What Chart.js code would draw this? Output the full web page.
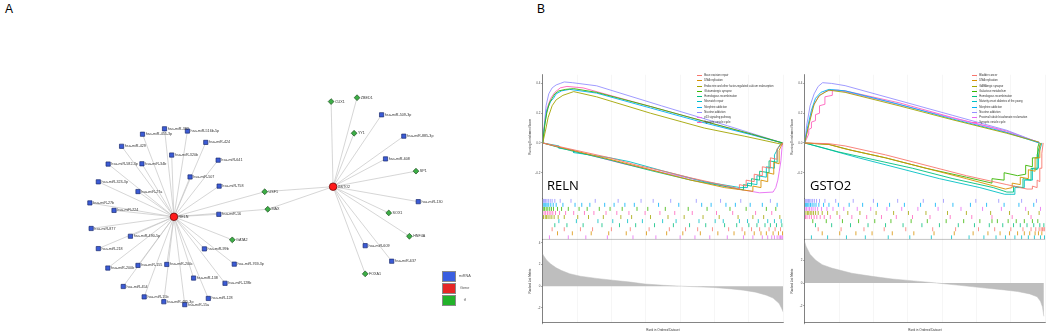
<!DOCTYPE html>
<html lang="en">
<head>
<meta charset="UTF-8">
<title>RELN / GSTO2 regulatory network and GSEA</title>
<style>
  body {
    margin: 0;
    width: 1052px;
    height: 332px;
    position: relative;
    overflow: hidden;
    background: #fff;
    font-family: Arial, 'Liberation Sans', sans-serif;
  }
  canvas { position: absolute; }
  .tag { position: absolute; font-size: 12px; line-height: 12px; color: #000; }
  .gene-name {
    position: absolute;
    font-family: 'Open Sans', sans-serif;
    font-size: 13px;
    line-height: 13px;
    color: #000;
  }
  .net-box { position: absolute; width: 12px; height: 9px; border: 0.7px solid #8a8a8a; }
  .net-text { position: absolute; width: 20px; text-align: center; font-size: 3.8px; line-height: 4px; color: #555; }
  .es-legend { position: absolute; }
  .es-row { display: flex; align-items: center; height: 5.26px; white-space: nowrap; }
  .es-key { width: 5px; height: 0.8px; margin-right: 2.6px; }
  .es-label { font-size: 2.7px; line-height: 3px; color: #333; }
</style>
</head>
<body>
<div class="tag" style="left:5px;top:2.5px">A</div>
<div class="tag" style="left:537px;top:2.5px">B</div>

<canvas id="network" width="530" height="332" style="left:0;top:0"></canvas>
<div id="netLegend"></div>

<canvas id="gseaReln" width="260" height="262" style="left:528px;top:70px"></canvas>
<canvas id="gseaGsto2" width="260" height="262" style="left:790px;top:70px"></canvas>
<div class="gene-name" style="left:547px;top:179.4px">RELN</div>
<div class="gene-name" style="left:810px;top:179.4px">GSTO2</div>
<div class="es-legend" id="relnLegend" style="left:696.7px;top:73px"></div>
<div class="es-legend" id="gsto2Legend" style="left:971.7px;top:73px"></div>

<script src="https://cdn.jsdelivr.net/npm/chart.js"></script>
<script>
// ---------- network (panel A) ----------
const nodeNames = [
  'RELN', 'GSTO2',
  'hsa-miR-382', 'hsa-miR-516b-5p', 'hsa-miR-455-3p', 'hsa-miR-429', 'hsa-miR-424', 'hsa-miR-320b',
  'hsa-miR-582-3p', 'hsa-miR-34b', 'hsa-miR-641', 'hsa-miR-507', 'hsa-miR-323-3p', 'hsa-miR-758',
  'hsa-miR-27a', 'hsa-miR-27b', 'hsa-miR-224', 'hsa-miR-16', 'hsa-miR-877', 'hsa-miR-490-5p',
  'hsa-miR-218', 'hsa-miR-99b', 'hsa-miR-769-3p', 'hsa-miR-200b', 'hsa-miR-155', 'hsa-miR-200c',
  'hsa-miR-138', 'hsa-miR-128b', 'hsa-miR-454', 'hsa-miR-15b', 'hsa-miR-128', 'hsa-miR-495-3p', 'hsa-miR-15a',
  'GATA2', 'USF1', 'MAX',
  'CUX1', 'ZBED1', 'hsa-miR-509-3p', 'YY1', 'hsa-miR-885-3p', 'hsa-miR-608', 'SP1', 'hsa-miR-130',
  'SOX1', 'HNF4A', 'hsa-miR-609', 'hsa-miR-637', 'FOXA1'
];
const nodeTypes = [
  'Gene', 'Gene',
  'miRNA', 'miRNA', 'miRNA', 'miRNA', 'miRNA', 'miRNA',
  'miRNA', 'miRNA', 'miRNA', 'miRNA', 'miRNA', 'miRNA',
  'miRNA', 'miRNA', 'miRNA', 'miRNA', 'miRNA', 'miRNA',
  'miRNA', 'miRNA', 'miRNA', 'miRNA', 'miRNA', 'miRNA',
  'miRNA', 'miRNA', 'miRNA', 'miRNA', 'miRNA', 'miRNA', 'miRNA',
  'tf', 'tf', 'tf',
  'tf', 'tf', 'miRNA', 'tf', 'miRNA', 'miRNA', 'tf', 'miRNA',
  'tf', 'tf', 'miRNA', 'miRNA', 'tf'
];
// layout coordinates of each node
const nodeX = [
  172.3, 334.3,
  162.7, 186, 140.3, 119, 204.7, 170,
  105.3, 139.7, 217.3, 188.7, 95.3, 218.3,
  135.7, 86.7, 111.3, 218, 88, 128,
  95.3, 203.3, 233.7, 105, 135.7, 165,
  192.3, 224.3, 120.7, 142, 207.3, 162, 183.3,
  231.7, 264.7, 267.8,
  332.3, 358.7, 383.7, 355.7, 406.3, 387.7, 418.7, 421,
  391, 412, 367, 394, 367
];
const nodeY = [
  218.3, 187.3,
  127.7, 130, 133.3, 145.7, 141.7, 154.7,
  164, 163.7, 160, 177.3, 182.3, 186.7,
  192.3, 204, 211.7, 215.7, 230.3, 238.3,
  251, 251.3, 267, 271, 268.3, 267.3,
  281.3, 286.7, 290, 300.7, 302.3, 305.7, 308.7,
  242, 192.5, 210.5,
  99.7, 95.7, 113.3, 132.3, 135.3, 158.7, 171.3, 202.7,
  214.3, 238.3, 248, 264, 277
];
const edgeFrom = [
  'RELN', 'RELN', 'RELN', 'RELN', 'RELN', 'RELN', 'RELN', 'RELN', 'RELN', 'RELN', 'RELN', 'RELN',
  'RELN', 'RELN', 'RELN', 'RELN', 'RELN', 'RELN', 'RELN', 'RELN', 'RELN', 'RELN', 'RELN', 'RELN',
  'RELN', 'RELN', 'RELN', 'RELN', 'RELN', 'RELN', 'RELN', 'RELN', 'RELN', 'RELN',
  'GSTO2', 'GSTO2', 'GSTO2', 'GSTO2', 'GSTO2', 'GSTO2', 'GSTO2', 'GSTO2', 'GSTO2', 'GSTO2',
  'GSTO2', 'GSTO2', 'GSTO2', 'GSTO2', 'GSTO2'
];
const edgeTo = [
  'hsa-miR-382', 'hsa-miR-516b-5p', 'hsa-miR-455-3p', 'hsa-miR-429', 'hsa-miR-424', 'hsa-miR-320b',
  'hsa-miR-582-3p', 'hsa-miR-34b', 'hsa-miR-641', 'hsa-miR-507', 'hsa-miR-323-3p', 'hsa-miR-758',
  'hsa-miR-27a', 'hsa-miR-27b', 'hsa-miR-224', 'hsa-miR-16', 'hsa-miR-877', 'hsa-miR-490-5p',
  'hsa-miR-218', 'hsa-miR-99b', 'hsa-miR-769-3p', 'hsa-miR-200b', 'hsa-miR-155', 'hsa-miR-200c',
  'hsa-miR-138', 'hsa-miR-128b', 'hsa-miR-454', 'hsa-miR-15b', 'hsa-miR-128', 'hsa-miR-495-3p',
  'hsa-miR-15a', 'GATA2', 'USF1', 'MAX',
  'USF1', 'MAX', 'CUX1', 'ZBED1', 'hsa-miR-509-3p', 'YY1', 'hsa-miR-885-3p', 'hsa-miR-608',
  'SP1', 'hsa-miR-130', 'SOX1', 'HNF4A', 'hsa-miR-609', 'hsa-miR-637', 'FOXA1'
];
const nodeCategories = ['miRNA', 'Gene', 'tf'];

// ---------- GSEA (panel B) ----------
const RANK_MAX = 17850;
const esTicks = ['0.4', '0.2', '0.0', '-0.2'];

const relnSets = [
  'Base excision repair', 'DNA replication',
  'Endocrine and other factor-regulated calcium reabsorption', 'Glutamatergic synapse',
  'Homologous recombination', 'Mismatch repair', 'Morphine addiction', 'Nicotine addiction',
  'p53 signaling pathway', 'Synaptic vesicle cycle'
];
const relnEs = [
  [[0,0],[1500,-0.03],[3000,-0.06],[5000,-0.1],[7000,-0.15],[9000,-0.19],[11000,-0.235],[13000,-0.275],[14200,-0.3],[14600,-0.31],[14600,-0.28],[15100,-0.29],[15100,-0.25],[15700,-0.26],[15700,-0.21],[16300,-0.22],[16300,-0.16],[16900,-0.17],[16900,-0.1],[17400,-0.11],[17400,-0.04],[17800,0]],
  [[0,0],[2000,-0.045],[5000,-0.11],[8000,-0.18],[11000,-0.25],[13500,-0.3],[15600,-0.325],[15600,-0.29],[16200,-0.3],[16200,-0.25],[16700,-0.26],[16700,-0.2],[17150,-0.21],[17150,-0.13],[17550,-0.14],[17550,-0.05],[17800,0]],
  [[0,0],[200,0.08],[400,0.17],[700,0.25],[1000,0.29],[1500,0.32],[2300,0.345],[4000,0.31],[8000,0.2],[12000,0.1],[15000,0.045],[17800,-0.01]],
  [[0,0],[150,0.12],[300,0.2],[500,0.27],[700,0.3],[900,0.33],[1200,0.35],[1700,0.36],[2300,0.365],[4000,0.34],[8000,0.245],[12000,0.145],[15500,0.06],[17800,0]],
  [[0,0],[2000,-0.05],[5000,-0.115],[8000,-0.185],[11000,-0.25],[14900,-0.315],[14900,-0.28],[15500,-0.29],[15500,-0.24],[16100,-0.25],[16100,-0.19],[16800,-0.2],[16800,-0.12],[17400,-0.13],[17400,-0.04],[17760,0]],
  [[0,0],[1200,-0.02],[1200,-0.035],[2300,-0.05],[2300,-0.065],[3500,-0.08],[5000,-0.1],[6400,-0.125],[9000,-0.19],[12000,-0.26],[14650,-0.3],[15200,-0.3],[15200,-0.27],[15900,-0.28],[15900,-0.22],[16600,-0.23],[16600,-0.16],[17200,-0.17],[17200,-0.08],[17700,0]],
  [[0,0],[120,0.1],[300,0.22],[600,0.28],[800,0.3],[1000,0.33],[1400,0.35],[2000,0.36],[4000,0.335],[8000,0.235],[12000,0.135],[15500,0.055],[17800,0]],
  [[0,0],[100,0.1],[250,0.25],[450,0.33],[700,0.37],[1000,0.39],[1300,0.4],[1600,0.41],[2200,0.405],[4000,0.384],[8800,0.25],[13700,0.116],[17800,0]],
  [[0,0],[3000,-0.07],[6000,-0.14],[9000,-0.2],[12000,-0.26],[14500,-0.31],[16100,-0.335],[17100,-0.33],[17300,-0.3],[17450,-0.25],[17560,-0.19],[17680,-0.12],[17760,-0.03],[17830,0]],
  [[0,0],[150,0.14],[350,0.24],[600,0.3],[900,0.34],[1300,0.37],[1800,0.38],[3000,0.37],[7000,0.27],[11000,0.17],[15000,0.07],[17800,0]]
];
const relnHits = [
  [700,1600,2800,3700,5100,6500,7900,9400,10600,11500,12600,13800,14800,15500,16100,16800,17250,17650],
  [1100,2200,3600,4900,6200,7700,9200,10400,11700,13000,14200,15000,15700,16200,16600,17100,17500,17800],
  [60,190,290,400,540,680,850,1150,1600,2600,3400,4500,5800,6600,8000,9300,10500,11900,13100,14500,15600,16400,17600],
  [40,140,260,380,520,650,800,1100,1400,1900,2700,3300,4200,5000,5900,7000,7800,9100,10800,12200,13900,15100,16600,17300],
  [900,1800,3000,4400,5700,6900,8300,9700,10900,12100,13500,14400,15300,15900,16500,16900,17350,17750],
  [1200,2500,4100,5200,6300,7400,8900,9900,11600,12800,13400,14600,15200,16000,16700,17200,17700],
  [80,160,240,330,450,600,780,1000,1500,2400,2900,3500,4600,5300,6100,6800,8600,10100,11800,12500,13600,14300,15400,16300,17400],
  [50,120,200,310,420,560,700,900,1300,2100,3900,5600,7300,8200,9500,11400,13200,14700,16900],
  [500,1900,3200,4800,6700,8400,10200,11300,12400,13700,14900,15600,16300,16700,17000,17200,17400,17550,17650,17750,17820],
  [100,220,350,480,610,750,950,1250,1700,2300,3100,3800,4700,5500,6400,7600,8700,9800,11100,12900,14100,15800,17000]
];
const relnRugOrder = [7, 6, 3, 9, 2, 5, 4, 0, 1, 8];
const relnRanked = [
  [0,3.0],[50,2.86],[300,2.4],[600,2.05],[1000,1.7],[1400,1.45],[2000,1.15],[2800,0.92],[4000,0.72],
  [5200,0.55],[6500,0.38],[7600,0.2],[9000,0.08],[10300,0],[11500,-0.06],[12700,-0.12],[14000,-0.25],
  [14900,-0.37],[15800,-0.55],[16600,-0.83],[17100,-1.1],[17550,-1.6],[17750,-2.1],[17850,-2.4]
];

const gsto2Sets = [
  'Bladder cancer', 'DNA replication', 'GABAergic synapse', 'Galactose metabolism',
  'Homologous recombination', 'Maturity onset diabetes of the young', 'Morphine addiction',
  'Nicotine addiction', 'Proximal tubule bicarbonate reclamation', 'Synaptic vesicle cycle'
];
const gsto2Es = [
  [[0,0],[1800,-0.005],[3000,-0.02],[6000,-0.08],[9000,-0.15],[12000,-0.22],[15000,-0.28],[16500,-0.31],[16900,-0.31],[16900,-0.29],[17250,-0.3],[17250,-0.25],[17450,-0.26],[17450,-0.17],[17600,-0.17],[17600,-0.07],[17700,0]],
  [[0,0],[1800,-0.01],[3000,-0.04],[6000,-0.1],[9000,-0.17],[12000,-0.24],[14900,-0.31],[15400,-0.3],[15400,-0.27],[16000,-0.28],[16000,-0.23],[16600,-0.24],[16600,-0.18],[17100,-0.19],[17100,-0.1],[17450,-0.1],[17450,-0.02],[17550,0]],
  [[0,0],[300,0.12],[700,0.26],[1100,0.32],[1800,0.355],[3000,0.34],[7000,0.25],[11000,0.155],[15000,0.065],[17400,0.005]],
  [[0,0],[1800,-0.01],[3500,-0.05],[6000,-0.1],[9000,-0.17],[12000,-0.23],[13900,-0.27],[13900,-0.24],[14800,-0.25],[14800,-0.2],[15800,-0.22],[16400,-0.21],[16400,-0.15],[16900,-0.16],[16900,-0.1],[17300,-0.1],[17300,-0.03],[17400,0]],
  [[0,0],[2500,-0.06],[5000,-0.11],[8000,-0.17],[11000,-0.24],[14000,-0.3],[15000,-0.33],[15500,-0.33],[15500,-0.29],[16200,-0.3],[16200,-0.24],[16800,-0.25],[16800,-0.17],[17250,-0.18],[17250,-0.08],[17500,0]],
  [[0,0],[2000,-0.05],[4000,-0.1],[7000,-0.17],[10000,-0.24],[13000,-0.3],[14850,-0.345],[15600,-0.345],[15600,-0.3],[16300,-0.3],[16300,-0.25],[16900,-0.25],[16900,-0.17],[17350,-0.17],[17350,-0.08],[17600,0]],
  [[0,0],[200,0.1],[500,0.22],[800,0.3],[1200,0.34],[1800,0.36],[3000,0.35],[7000,0.26],[11000,0.16],[15000,0.07],[17400,0]],
  [[0,0],[150,0.12],[400,0.25],[700,0.33],[1000,0.38],[1330,0.405],[2000,0.4],[3000,0.385],[7000,0.285],[11000,0.185],[15000,0.085],[17450,0]],
  [[0,0],[250,0.1],[600,0.24],[1000,0.31],[1600,0.35],[2500,0.355],[6000,0.28],[10000,0.19],[14000,0.1],[17400,0.005]],
  [[0,0],[300,0.06],[300,0.09],[500,0.1],[500,0.14],[800,0.15],[800,0.19],[1100,0.2],[1100,0.25],[1500,0.26],[1500,0.31],[2050,0.32],[2050,0.355],[3000,0.35],[7000,0.27],[11000,0.17],[15000,0.08],[17450,0]]
];
const gsto2Hits = [
  [1000,2700,4400,5900,7500,9500,11200,12900,14100,15300,16200,16800,17150,17400,17550,17650,17750,17820],
  [1300,2600,3800,5000,6500,8100,9600,11100,12500,13600,14500,15200,15800,16300,16700,17100,17350,17600],
  [90,200,300,410,530,660,810,1000,1300,1700,2400,3200,4100,5300,6600,7700,9000,10600,12000,13800,15200,16600,17400],
  [600,1600,2800,4000,5200,6400,7900,9100,10500,11800,13000,13900,14300,15100,15700,16300,16900,17300],
  [800,2000,3400,4700,6000,7300,8700,10000,11400,12600,13700,14700,15500,16000,16500,17000,17450,17750],
  [500,1700,3100,4500,6200,7800,9400,10900,12200,13300,14200,14900,15600,16100,16600,17050,17500,17800],
  [70,150,230,320,430,550,690,840,1050,1400,1800,2500,3300,4300,5400,6300,7400,8600,9700,11000,12300,13500,14800,15900,17000],
  [40,110,190,280,370,470,590,720,880,1100,1500,2300,3600,5100,6900,8800,10300,12700,14400,16100,17200],
  [30,130,250,360,490,620,780,960,1250,1650,2100,2900,3900,4900,6100,7200,8400,9900,11600,13200,14600,16400,17500],
  [60,170,340,500,700,900,1150,1450,1900,2600,3500,4600,5700,6800,8000,9300,10800,12400,13900,15400,16800]
];
const gsto2RugOrder = [7, 6, 8, 2, 9, 3, 4, 0, 1, 5];
const gsto2Ranked = [
  [0,3.6],[100,3.2],[400,2.5],[800,2.0],[1300,1.6],[2000,1.3],[2500,1.15],[3500,0.85],[5000,0.58],
  [6500,0.35],[8500,0.14],[9800,0],[11500,-0.2],[13400,-0.44],[14800,-0.6],[15800,-0.74],[16700,-0.95],
  [17250,-1.2],[17500,-1.6],[17650,-2.1],[17750,-2.9]
];

// ---------- styles ----------
const palette = ['#F8766D', '#D89000', '#A3A500', '#39B600', '#00BF7D', '#00BFC4', '#00B0F6', '#9590FF', '#E76BF3', '#FF62BC'];
const nodeStyle = {
  miRNA: { fill: '#3b5bd6', line: '#1c2c6e', shape: 'rect', r: 3, gap: 3.2 },
  Gene:  { fill: '#ff1a1a', line: '#5a0000', shape: 'circle', r: 3.8, gap: 4.6 },
  tf:    { fill: '#3cae46', line: '#1f4f22', shape: 'rectRot', r: 2.9, gap: 3.8 }
};
const legendFill = { miRNA: '#3a5ee0', Gene: '#e62626', tf: '#22b22a' };

// ---------- network chart ----------
const nodeIndex = {};
nodeNames.forEach((n, i) => { nodeIndex[n] = i; });

const edgePoints = [];
edgeFrom.forEach((src, i) => {
  const a = nodeIndex[src], b = nodeIndex[edgeTo[i]];
  edgePoints.push({ x: nodeX[a], y: nodeY[a] });
  edgePoints.push({ x: nodeX[b], y: nodeY[b] });
  edgePoints.push({ x: nodeX[b], y: null });
});

const netDatasets = [{
  label: 'edges',
  data: edgePoints,
  showLine: true,
  spanGaps: false,
  borderColor: '#c4c4c4',
  borderWidth: 0.7,
  pointRadius: 0,
  order: 10
}];
['tf', 'miRNA', 'Gene'].forEach(type => {
  const idx = nodeNames.map((n, i) => i).filter(i => nodeTypes[i] === type);
  const st = nodeStyle[type];
  netDatasets.push({
    label: type,
    data: idx.map(i => ({ x: nodeX[i], y: nodeY[i] })),
    nodeLabels: idx.map(i => nodeNames[i]),
    labelGap: st.gap,
    showLine: false,
    pointStyle: st.shape,
    pointRadius: st.r,
    pointBackgroundColor: st.fill,
    pointBorderColor: st.line,
    pointBorderWidth: 0.7,
    order: 1
  });
});

const nodeLabelPlugin = {
  id: 'nodeLabels',
  afterDatasetsDraw(chart) {
    const ctx = chart.ctx;
    ctx.save();
    ctx.font = '3.7px Arial';
    ctx.fillStyle = '#333';
    ctx.textBaseline = 'middle';
    chart.data.datasets.forEach((ds, di) => {
      if (!ds.nodeLabels) return;
      chart.getDatasetMeta(di).data.forEach((pt, i) => {
        ctx.fillText(ds.nodeLabels[i], pt.x + ds.labelGap, pt.y);
      });
    });
    ctx.restore();
  }
};

new Chart(document.getElementById('network'), {
  type: 'scatter',
  data: { datasets: netDatasets },
  options: {
    responsive: false,
    animation: false,
    layout: { padding: 0 },
    scales: {
      x: { display: false, min: 0, max: 530 },
      y: { display: false, min: 0, max: 332, reverse: true }
    },
    plugins: { legend: { display: false }, tooltip: { enabled: false } }
  },
  plugins: [nodeLabelPlugin]
});

// network legend (boxes + labels)
const netLegend = document.getElementById('netLegend');
nodeCategories.forEach((c, i) => {
  const top = 270.7 + i * 12;
  netLegend.insertAdjacentHTML('beforeend',
    `<div class="net-box" style="left:442px;top:${top}px;background:${legendFill[c]}"></div>` +
    `<div class="net-text" style="left:454.7px;top:${top + 3}px">${c}</div>`);
});

// ---------- GSEA charts ----------
const tinyFont = { size: 3, family: 'Arial' };

const rankTopLine = {
  id: 'rankTopLine',
  afterDraw(chart) {
    const s = chart.scales.yRank, a = chart.chartArea, ctx = chart.ctx;
    ctx.save();
    ctx.strokeStyle = '#9a9a9a';
    ctx.lineWidth = 0.6;
    ctx.beginPath();
    ctx.moveTo(a.left, s.top);
    ctx.lineTo(a.right, s.top);
    ctx.stroke();
    ctx.restore();
  }
};

function drawGsea(canvasId, sets, curves, hits, rugOrder, ranked, rankMin, rankMax) {
  const datasets = [];
  sets.forEach((name, i) => {
    datasets.push({
      label: name,
      data: curves[i].map(p => ({ x: p[0], y: p[1] })),
      yAxisID: 'yES',
      borderColor: palette[i],
      borderWidth: 0.9,
      pointRadius: 0,
      fill: false
    });
  });
  rugOrder.forEach((setIdx, row) => {
    datasets.push({
      label: sets[setIdx] + ' hits',
      data: hits[setIdx].map(r => ({ x: r, y: row + 0.5 })),
      yAxisID: 'yRug',
      showLine: false,
      pointStyle: 'line',
      pointRotation: 90,
      pointRadius: 2,
      pointBorderColor: palette[setIdx],
      pointBorderWidth: 0.8
    });
  });
  datasets.push({
    label: 'ranked list',
    data: ranked.map(p => ({ x: p[0], y: p[1] })),
    yAxisID: 'yRank',
    fill: 'origin',
    backgroundColor: '#bebebe',
    borderColor: '#bebebe',
    borderWidth: 0.5,
    pointRadius: 0
  });

  const yAxis = (extra) => Object.assign({
    type: 'linear',
    position: 'left',
    stack: 'gsea',
    border: { color: '#333', width: 0.6 },
    grid: { drawOnChartArea: false, tickLength: 1.5, tickColor: '#333', lineWidth: 0.5 },
    ticks: { font: tinyFont, color: '#4d4d4d', padding: 0.8, includeBounds: false },
    afterFit: s => { s.width = 14.7; }
  }, extra);

  new Chart(document.getElementById(canvasId), {
    type: 'line',
    data: { datasets },
    options: {
      responsive: false,
      animation: false,
      layout: { padding: { top: 3, left: 0, right: 0, bottom: 0 } },
      scales: {
        x: {
          type: 'linear',
          min: 0,
          max: RANK_MAX,
          ticks: {
            stepSize: 2500,
            includeBounds: false,
            autoSkip: false,
            maxRotation: 0,
            font: tinyFont,
            color: '#4d4d4d',
            padding: 0.5,
            callback: v => (v > 0 && v % 5000 === 0) ? String(v) : ''
          },
          grid: {
            color: '#ececec',
            lineWidth: 0.5,
            tickLength: 1.5,
            tickColor: ctx => (ctx.tick && ctx.tick.value % 5000 === 0) ? '#333' : 'rgba(0,0,0,0)'
          },
          border: { color: '#333', width: 0.6 },
          title: { display: true, text: 'Rank in Ordered Dataset', font: tinyFont, color: '#333', padding: { top: 0.8, bottom: 0 } },
          afterFit: s => { s.height = 9.3; }
        },
        yRank: yAxis({
          stackWeight: 84,
          min: rankMin,
          max: rankMax,
          ticks: { font: tinyFont, color: '#4d4d4d', padding: 0.8, includeBounds: false, stepSize: 2 },
          title: { display: true, text: 'Ranked List Metric', font: tinyFont, color: '#333', padding: 0 }
        }),
        yRug: yAxis({
          stackWeight: 41,
          min: 0,
          max: 10,
          reverse: true,
          ticks: { display: false },
          grid: { display: false }
        }),
        yES: yAxis({
          stackWeight: 125,
          min: -0.375,
          max: 0.458,
          ticks: {
            font: tinyFont, color: '#4d4d4d', padding: 0.8, includeBounds: false, stepSize: 0.2,
            callback: v => esTicks[Math.round((0.4 - v) / 0.2)]
          },
          title: { display: true, text: 'Running Enrichment Score', font: tinyFont, color: '#333', padding: 0 }
        })
      },
      plugins: { legend: { display: false }, tooltip: { enabled: false } }
    },
    plugins: [rankTopLine]
  });
}

drawGsea('gseaReln', relnSets, relnEs, relnHits, relnRugOrder, relnRanked, -3.38, 4.33);
drawGsea('gseaGsto2', gsto2Sets, gsto2Es, gsto2Hits, gsto2RugOrder, gsto2Ranked, -3.46, 3.8);

// legends inside the enrichment panels
function fillLegend(id, sets) {
  const box = document.getElementById(id);
  sets.forEach((name, i) => {
    box.insertAdjacentHTML('beforeend',
      `<div class="es-row"><div class="es-key" style="background:${palette[i]}"></div><div class="es-label">${name}</div></div>`);
  });
}
fillLegend('relnLegend', relnSets);
fillLegend('gsto2Legend', gsto2Sets);
</script>
</body>
</html>
